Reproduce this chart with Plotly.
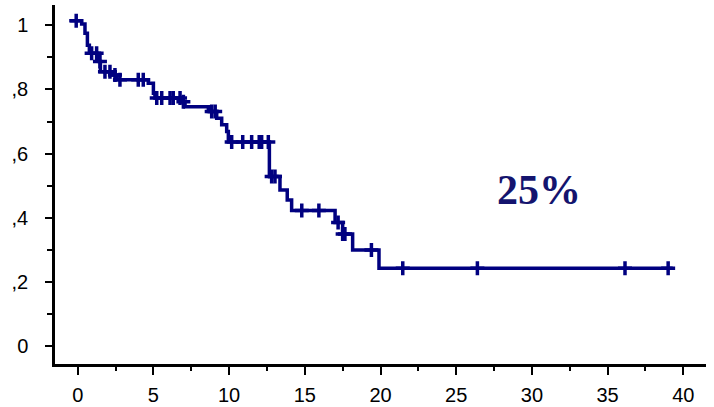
import numpy as np
import plotly.graph_objects as go

# Kaplan-Meier step curve
step_times = [-0.5, 0.26, 0.48, 0.64, 0.77, 1.43, 1.5, 2.25, 2.6, 4.66, 5.0, 5.1,
              6.87, 7.09, 8.63, 9.18, 9.51, 9.84, 9.95, 12.66, 13.36, 13.84, 14.13,
              17.0, 17.5, 18.16, 19.9, 39.3]
step_surv = [1.014, 1.004, 0.975, 0.938, 0.913, 0.887, 0.855, 0.845, 0.830, 0.819,
             0.788, 0.773, 0.762, 0.746, 0.731, 0.710, 0.690, 0.669, 0.636, 0.529,
             0.487, 0.456, 0.423, 0.386, 0.350, 0.300, 0.243, 0.243]

# censored observations
censor_times = [-0.1, 0.92, 1.25, 1.47, 1.80, 2.13, 2.46, 2.79, 4.0, 4.33, 5.22, 5.55,
                6.1, 6.31, 6.76, 6.98, 8.85, 9.08, 10.17, 10.9, 11.49, 11.99, 12.15,
                12.59, 12.81, 13.03, 14.8, 15.93, 17.2, 17.5, 17.65, 19.4, 21.47,
                26.4, 36.15, 39.0]

x_ticks = [0, 5, 10, 15, 20, 25, 30, 35, 40]
y_ticks = [0, 0.2, 0.4, 0.6, 0.8, 1.0]
y_tick_labels = ["0", ",2", ",4", ",6", ",8", "1"]
annotation_text = "25%"

st = np.array(step_times)
ss = np.array(step_surv)
ct = np.array(censor_times)
idx = np.searchsorted(st, ct, side="right") - 1
cs = ss[np.clip(idx, 0, len(ss) - 1)]

navy = "#000080"

fig = go.Figure()
fig.add_trace(go.Scatter(x=step_times, y=step_surv, mode="lines",
                         line=dict(shape="hv", color=navy, width=3.5),
                         hoverinfo="skip", showlegend=False))
fig.add_trace(go.Scatter(x=ct, y=cs, mode="markers",
                         marker=dict(symbol="cross-thin-open", size=10, color=navy,
                                     line=dict(color=navy, width=3.5)),
                         showlegend=False))

fig.add_annotation(x=30.5, y=0.487, xref="x", yref="y", text="<b>" + annotation_text + "</b>",
                   showarrow=False,
                   font=dict(family="Liberation Serif, Times New Roman, serif",
                             size=42, color="#14146e"))

axis_font = dict(family="Liberation Sans, Arial, sans-serif", size=20, color="black")

fig.update_xaxes(range=[-1.5, 41.5], tickvals=x_ticks, showgrid=False, zeroline=False,
                 showline=True, linecolor="black", linewidth=2.5, automargin=False,
                 ticks="outside", ticklen=8, tickwidth=2, tickcolor="black",
                 tickfont=axis_font, ticklabelstandoff=3,
                 minor=dict(tickvals=[2.5, 7.5, 12.5, 17.5, 22.5, 27.5, 32.5, 37.5],
                            ticks="outside", ticklen=4, tickwidth=2, tickcolor="black"))
fig.update_yaxes(range=[-0.055, 1.063], tickvals=y_ticks, ticktext=y_tick_labels,
                 showgrid=False, zeroline=False, automargin=False,
                 showline=True, linecolor="black", linewidth=2.5,
                 ticks="outside", ticklen=7, tickwidth=2, tickcolor="black",
                 tickfont=axis_font, ticklabelstandoff=13,
                 minor=dict(tickvals=[0.1, 0.3, 0.5, 0.7, 0.9],
                            ticks="outside", ticklen=5, tickwidth=2, tickcolor="black"))

fig.update_layout(width=714, height=407, margin=dict(l=55, r=8, t=5, b=43),
                  plot_bgcolor="white", paper_bgcolor="white")

fig.write_html("out.html")
